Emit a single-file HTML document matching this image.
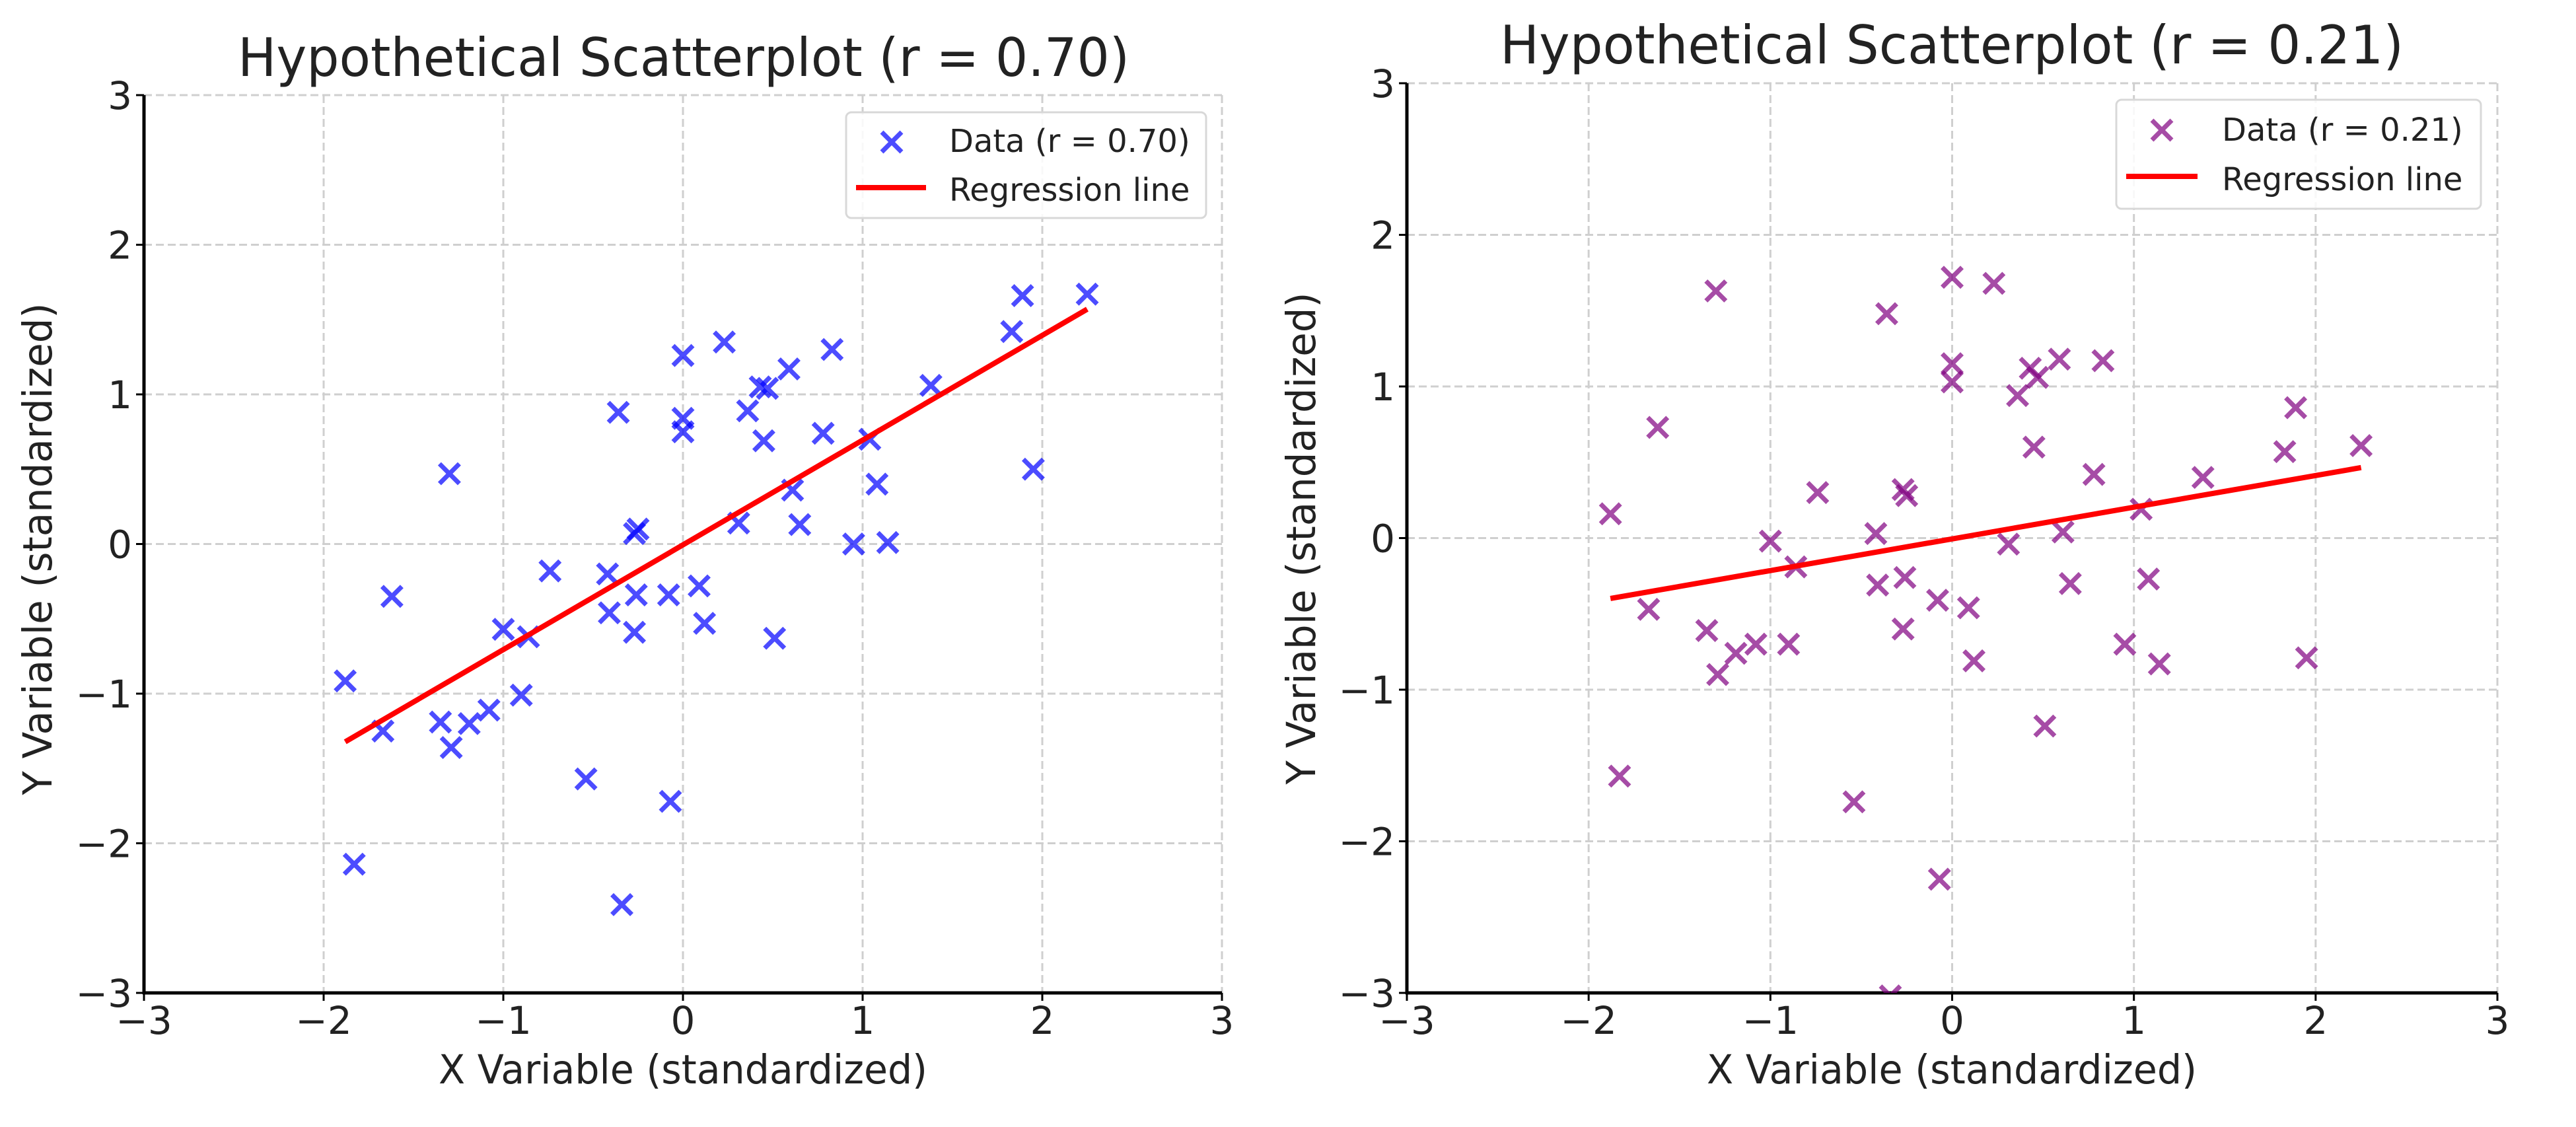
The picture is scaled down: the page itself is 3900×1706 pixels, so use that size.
<!DOCTYPE html>
<html><head><meta charset="utf-8"><style>
html,body{margin:0;padding:0;background:#fff}
svg{display:block}
text{font-family:"DejaVu Sans","Liberation Sans",sans-serif;fill:#222}
</style></head><body>
<svg id="fig" width="3900" height="1706" viewBox="0 0 3900 1706" xmlns="http://www.w3.org/2000/svg"></svg>
<script>
const xValues = [-1.88,-1.83,-1.67,-1.62,-1.35,-1.30,-1.29,-1.19,-1.08,-1.00,-0.86,-0.90,-0.74,-0.54,-0.42,-0.41,-0.36,-0.34,-0.27,-0.25,-0.26,-0.27,-0.08,-0.07,0.00,0.00,0.00,0.09,0.12,0.23,0.31,0.36,0.43,0.47,0.45,0.51,0.59,0.61,0.65,0.78,0.83,0.95,1.04,1.08,1.14,1.38,1.83,1.89,1.95,2.25];
const yStrong = [-0.915,-2.14,-1.25,-0.35,-1.19,0.47,-1.36,-1.20,-1.11,-0.57,-0.62,-1.01,-0.18,-1.57,-0.20,-0.46,0.88,-2.41,0.07,0.10,-0.34,-0.59,-0.34,-1.72,1.26,0.84,0.75,-0.28,-0.53,1.35,0.14,0.89,1.05,1.04,0.69,-0.63,1.17,0.36,0.13,0.74,1.30,0.00,0.70,0.40,0.01,1.06,1.42,1.66,0.50,1.67];
const yWeak = [0.16,-1.57,-0.47,0.73,-0.61,1.63,-0.90,-0.76,-0.70,-0.02,-0.19,-0.70,0.30,-1.74,0.03,-0.31,1.48,-3.02,0.32,0.28,-0.26,-0.60,-0.41,-2.25,1.72,1.15,1.03,-0.46,-0.81,1.68,-0.04,0.94,1.12,1.06,0.60,-1.24,1.18,0.04,-0.30,0.42,1.17,-0.70,0.19,-0.27,-0.83,0.40,0.57,0.86,-0.79,0.61];
const tickValues = [-3,-2,-1,0,1,2,3];
const tickLabels = ["\u22123","\u22122","\u22121","0","1","2","3"];
const titles = ["Hypothetical Scatterplot (r = 0.70)","Hypothetical Scatterplot (r = 0.21)"];
const legendLabels = ["Data (r = 0.70)","Data (r = 0.21)"];

const NS="http://www.w3.org/2000/svg";
const svg=document.getElementById('fig');
function mk(tag,attrs,parent){const e=document.createElementNS(NS,tag);for(const k in attrs)e.setAttribute(k,attrs[k]);(parent||svg).appendChild(e);return e;}

const panels=[
 {x0:218,x1:1850,yt:144,yb:1503,ys:yStrong,color:"rgba(0,0,255,0.7)",tx:1035,tby:115,tw:1350,xlx:1034,yly:831,ylx:78,xlw:740,ylw:745,
  lg:{x:1281,y:170,w:545,h:160,mx:1350,my:215,l1:1296,l2:1402,ly:284,tx:1437,t1:230,t2:304}},
 {x0:2130,x1:3781,yt:126,yb:1503,ys:yWeak,color:"rgba(128,0,128,0.7)",tx:2955,tby:96,tw:1368,xlx:2955,yly:815,ylx:1991,xlw:742,ylw:745,
  lg:{x:3204,y:151,w:552,h:165,mx:3273,my:197,l1:3219,l2:3327,ly:267,tx:3364,t1:213,t2:288}}
];

panels.forEach((p,pi)=>{
  const g=mk('g',{});
  
  
  const sx=v=>p.x0+(v+3)/6*(p.x1-p.x0);
  const sy=v=>p.yb-(v+3)/6*(p.yb-p.yt);
  const clip=mk('clipPath',{id:'clip'+pi},g);
  mk('rect',{x:p.x0-20,y:p.yt-20,width:p.x1-p.x0+40,height:p.yb-p.yt+20},clip);
  tickValues.forEach((t,i)=>{
    const gx=mk('line',{x1:sx(t),x2:sx(t),y1:p.yt,y2:p.yb,stroke:"#cfcfcf","stroke-width":3,"stroke-dasharray":"12,6"},g);
    
    
    const gy=mk('line',{x1:p.x0,x2:p.x1,y1:sy(t),y2:sy(t),stroke:"#cfcfcf","stroke-width":3,"stroke-dasharray":"12,6"},g);
    
    
    mk('line',{x1:sx(t),x2:sx(t),y1:p.yb,y2:p.yb+12,stroke:"#000","stroke-width":3},g);
    mk('line',{x1:p.x0-12,x2:p.x0,y1:sy(t),y2:sy(t),stroke:"#000","stroke-width":3},g);
    const xl=mk('text',{x:sx(t),y:p.yb+62,"font-size":58,"text-anchor":"middle"},g);
    xl.textContent=tickLabels[i];
    
    
    const yl=mk('text',{x:p.x0-18,y:sy(t)+21,"font-size":58,"text-anchor":"end"},g);
    yl.textContent=tickLabels[i];
    
    
  });
  const sp1=mk('line',{x1:p.x0,x2:p.x0,y1:p.yt,y2:p.yb+2,stroke:"#000","stroke-width":5},g);
  
  
  const sp2=mk('line',{x1:p.x0-2,x2:p.x1,y1:p.yb,y2:p.yb,stroke:"#000","stroke-width":5},g);
  
  
  const mg=mk('g',{"clip-path":"url(#clip"+pi+")"},g);
  const h=15;
  xValues.forEach((xv,i)=>{
    const cx=sx(xv),cy=sy(p.ys[i]);
    const m=mk('path',{d:`M${cx-h},${cy-h}L${cx+h},${cy+h}M${cx-h},${cy+h}L${cx+h},${cy-h}`,stroke:p.color,"stroke-width":7,fill:"none"},mg);
    
    
  });
  const n=xValues.length;let mx=0,my=0;
  xValues.forEach((v,i)=>{mx+=v;my+=p.ys[i];});mx/=n;my/=n;
  let sxy=0,sxx=0;xValues.forEach((v,i)=>{sxy+=(v-mx)*(p.ys[i]-my);sxx+=(v-mx)*(v-mx);});
  const b=sxy/sxx,a=my-b*mx;
  const xmin=Math.min(...xValues),xmax=Math.max(...xValues);
  const rl=mk('line',{x1:sx(xmin),y1:sy(a+b*xmin),x2:sx(xmax),y2:sy(a+b*xmax),stroke:"#ff0000","stroke-width":8},g);
  
  
  const t=mk('text',{x:p.tx,y:p.tby,"font-size":80,"text-anchor":"middle",textLength:p.tw,lengthAdjust:"spacingAndGlyphs"},g);
  t.textContent=titles[pi];
  
  
  const xt=mk('text',{x:p.xlx,y:1640,"font-size":61,"text-anchor":"middle",textLength:p.xlw,lengthAdjust:"spacingAndGlyphs"},g);
  xt.textContent="X Variable (standardized)";
  
  
  const yt=mk('text',{x:0,y:0,"font-size":61,"text-anchor":"middle",textLength:p.ylw,lengthAdjust:"spacingAndGlyphs",transform:`translate(${p.ylx},${p.yly}) rotate(-90)`},g);
  yt.textContent="Y Variable (standardized)";
  
  
  const L=p.lg;
  const lg=mk('g',{},g);
  
  
  mk('rect',{x:L.x,y:L.y,width:L.w,height:L.h,rx:8,fill:"rgba(255,255,255,0.85)",stroke:"#d8d8d8","stroke-width":3},lg);
  const lm=mk('path',{d:`M${L.mx-h},${L.my-h}L${L.mx+h},${L.my+h}M${L.mx-h},${L.my+h}L${L.mx+h},${L.my-h}`,stroke:p.color,"stroke-width":7,fill:"none"},lg);
  
  
  const ll=mk('line',{x1:L.l1,x2:L.l2,y1:L.ly,y2:L.ly,stroke:"#ff0000","stroke-width":8},lg);
  
  
  const t1=mk('text',{x:L.tx,y:L.t1,"font-size":48},lg);
  t1.textContent=legendLabels[pi];
  
  
  const t2=mk('text',{x:L.tx,y:L.t2,"font-size":48},lg);
  t2.textContent="Regression line";
  
  
});
</script>
</body></html>
